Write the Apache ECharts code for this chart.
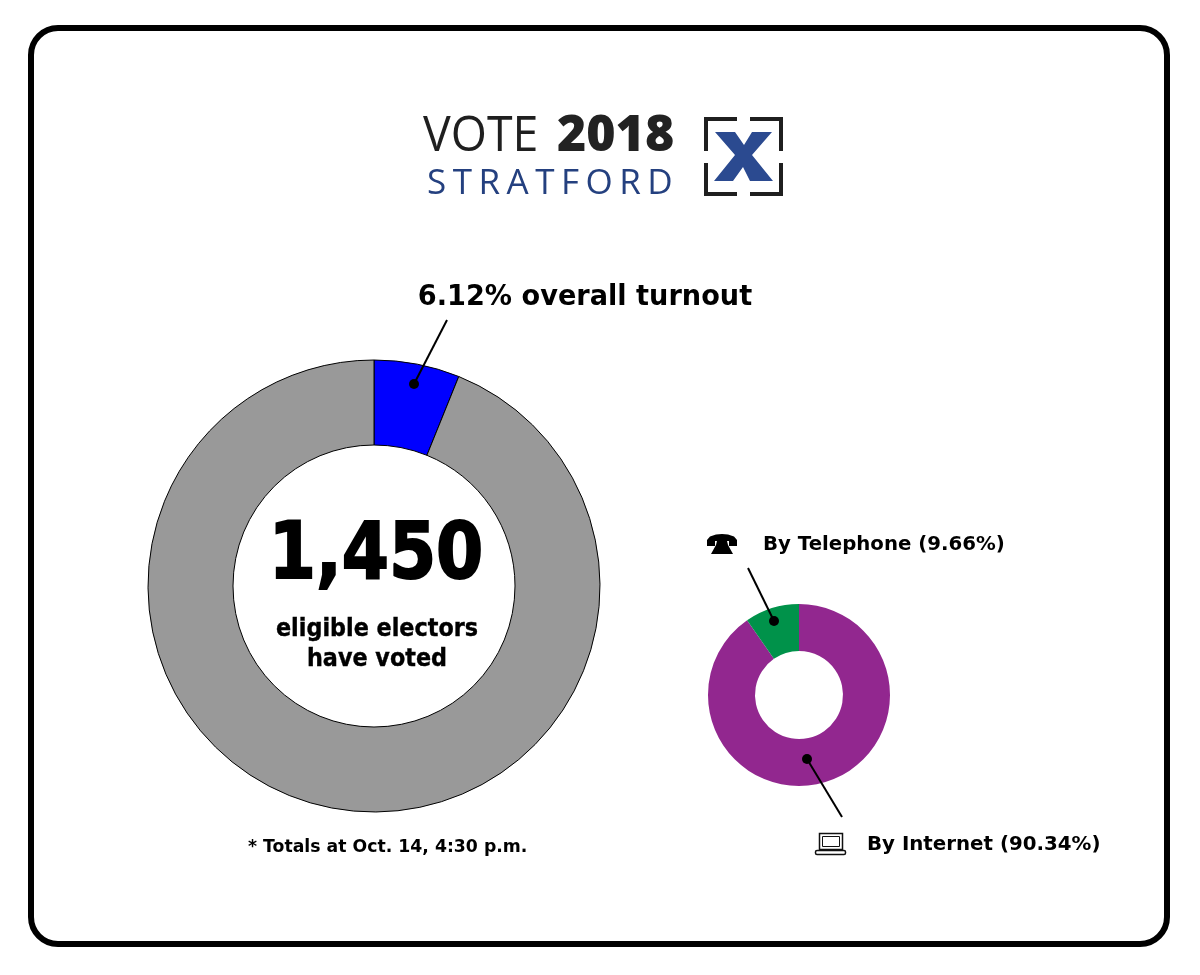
<!DOCTYPE html>
<html><head><meta charset="utf-8">
<style>html,body{margin:0;padding:0;background:#fff}#c{width:1200px;height:975px}</style>
<script src="https://cdn.jsdelivr.net/npm/echarts@6/dist/echarts.min.js"></script>
</head><body><div id="c"></div>
<script>
const turnoutNames = ['Voted', 'Did not vote'];
const turnoutValues = [6.12, 93.88];
const methodNames = ['By Internet', 'By Telephone'];
const methodValues = [90.34, 9.66];

// letter spacing for the logo's wordmark (canvas-level; zrender has no such option)
const origFill = CanvasRenderingContext2D.prototype.fillText;
CanvasRenderingContext2D.prototype.fillText = function (t, x, y, m) {
  if (t === 'STRATFORD') {
    this.save(); this.letterSpacing = '6.5px';
    origFill.call(this, t, x, y); this.restore(); this.letterSpacing = '0px'; return;
  }
  this.letterSpacing = '0px';
  return m === undefined ? origFill.call(this, t, x, y) : origFill.call(this, t, x, y, m);
};

const LABEL = 'DejaVu Sans';
function txt(text, x, y, size, opt) {
  opt = opt || {};
  const style = {
    text: text, fill: opt.fill || '#000', align: opt.align || 'center', verticalAlign: 'middle',
    font: (opt.weight || 'bold') + ' ' + size + 'px "' + (opt.family || LABEL) + '"'
  };
  if (opt.stroke) { style.stroke = opt.fill || '#000'; style.lineWidth = opt.stroke; }
  return { type: 'text', x: x, y: y, scaleX: opt.sx || 1, silent: true, zlevel: 1, style: style };
}
function seg(x1, y1, x2, y2, w, color) {
  return { type: 'line', silent: true, zlevel: 1, shape: { x1, y1, x2, y2 }, style: { stroke: color || '#000', lineWidth: w } };
}
function dot(x, y) {
  return { type: 'circle', silent: true, zlevel: 1, shape: { cx: x, cy: y, r: 5 }, style: { fill: '#000' } };
}
function bar(x, y, w, h) {
  return { type: 'rect', silent: true, zlevel: 1, shape: { x, y, width: w, height: h }, style: { fill: '#1f1f1f' } };
}
function poly(points, fill) {
  return { type: 'polygon', silent: true, zlevel: 1, shape: { points }, style: { fill } };
}

const graphics = [
  { type: 'rect', silent: true, shape: { x: 31, y: 28, width: 1136, height: 916, r: 27 }, style: { fill: '#fff', stroke: '#000', lineWidth: 6 } },

  txt('VOTE', 423, 137, 50, { align: 'left', weight: '400', family: 'Open Sans', fill: '#1f1f1f', sx: 0.93 }),
  txt('2018', 557, 137, 50, { align: 'left', weight: '800', family: 'Open Sans', fill: '#222' }),
  txt('STRATFORD', 427, 184, 35, { align: 'left', weight: '400', family: 'Open Sans', fill: '#24407f' }),
  bar(704, 117, 33, 4), bar(750, 117, 33, 4), bar(704, 117, 4, 34), bar(779, 117, 4, 34),
  bar(704, 192, 33, 4), bar(750, 192, 33, 4), bar(704, 163, 4, 33), bar(779, 163, 4, 33),
  poly([[715,132],[735,132],[744,145],[752,132],[772,132],[752,155],[773,181],[750,181],[743,167],[733,181],[714,181],[735,155]], '#2b4a90'),

  txt('6.12% overall turnout', 585, 298, 28, { sx: 0.97 }),
  seg(447, 320, 414, 384, 2), dot(414, 384),

  txt('1,450', 376, 558, 78, { sx: 0.87, stroke: 2 }),
  txt('eligible electors', 377, 630, 24, { sx: 0.93, stroke: 0.4 }),
  txt('have voted', 377, 660, 24, { sx: 0.93, stroke: 0.4 }),
  txt('* Totals at Oct. 14, 4:30 p.m.', 248, 847, 18, { align: 'left', sx: 0.96 }),

  poly([[707,546],[707,540],[710,536.5],[716,534.5],[722,534],[728,534.5],[734,536.5],[737,540],[737,546],[729,546],[729,541],[715,541],[715,546]], '#000'),
  poly([[717,541],[727,541],[728,545],[733,554],[711,554],[716,545]], '#000'),
  txt('By Telephone (9.66%)', 763, 545, 20, { align: 'left', sx: 0.987 }),
  seg(748, 568, 774, 621, 2), dot(774, 621),

  seg(842, 817, 807, 759, 2), dot(807, 759),
  { type: 'rect', silent: true, zlevel: 1, shape: { x: 819.5, y: 833.5, width: 23, height: 16 }, style: { fill: 'none', stroke: '#111', lineWidth: 1.5 } },
  { type: 'rect', silent: true, zlevel: 1, shape: { x: 822.5, y: 836.5, width: 17, height: 10 }, style: { fill: 'none', stroke: '#111', lineWidth: 1 } },
  { type: 'rect', silent: true, zlevel: 1, shape: { x: 815.5, y: 850.5, width: 30, height: 4, r: 1.5 }, style: { fill: 'none', stroke: '#111', lineWidth: 1.5 } },
  txt('By Internet (90.34%)', 867, 845, 20, { align: 'left', sx: 0.99 })
];

const chart = echarts.init(document.getElementById('c'), null, { renderer: 'canvas' });
chart.setOption({
  animation: false,
  backgroundColor: '#fff',
  graphic: { elements: graphics },
  series: [
    {
      type: 'pie', center: [374, 586], radius: [141, 226], startAngle: 90, silent: true, z: 5,
      label: { show: false }, labelLine: { show: false },
      itemStyle: { borderColor: '#000', borderWidth: 1 },
      data: turnoutNames.map((n, i) => ({ name: n, value: turnoutValues[i], itemStyle: { color: ['#0000ff', '#999999'][i] } }))
    },
    {
      type: 'pie', center: [799, 695], radius: [44, 91], startAngle: 90, silent: true, z: 5,
      label: { show: false }, labelLine: { show: false },
      data: methodNames.map((n, i) => ({ name: n, value: methodValues[i], itemStyle: { color: ['#92278f', '#00924a'][i] } }))
    }
  ]
});
</script></body></html>
